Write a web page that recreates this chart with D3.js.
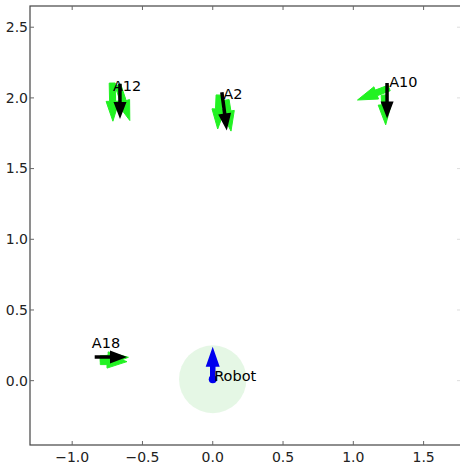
<!DOCTYPE html>
<html>
<head>
<meta charset="utf-8">
<script src="https://cdn.jsdelivr.net/npm/d3@7"></script>
<style>
  body { margin: 0; background: white; }
  svg { display: block; font-family: "DejaVu Sans", sans-serif; }
</style>
</head>
<body>
<div id="chart"></div>
<script>
// agents: start of heading arrow (black) and label spot
var agentNames = ["A12", "A2", "A10", "A18"];
var agentX = [-0.66, 0.065, 1.24, -0.84];
var agentY = [2.10, 2.04, 2.105, 0.168];
var headDX = [0.0, 0.035, 0.0, 0.23];
var headDY = [-0.25, -0.27, -0.25, 0.0];
var labelX = [-0.71, 0.075, 1.255, -0.86];
var labelY = [2.05, 1.995, 2.075, 0.23];

// green arrows: [x, y, dx, dy]
var greenArrows = [
  [-0.715, 2.105, 0.005, -0.27],
  [-0.675, 2.09, 0.085, -0.25],
  [0.045, 2.02, -0.01, -0.24],
  [0.095, 1.985, 0.035, -0.22],
  [1.255, 2.07, -0.225, -0.085],
  [1.22, 2.02, 0.01, -0.21],
  [-0.80, 0.155, 0.2, 0.01],
  [-0.80, 0.135, 0.19, 0.0]
];

var robotX = 0.0, robotY = 0.01;
var robotDX = 0.0, robotDY = 0.23;
var robotRadius = 0.24;

var xTicks = [-1.0, -0.5, 0.0, 0.5, 1.0, 1.5];
var yTicks = [0.0, 0.5, 1.0, 1.5, 2.0, 2.5];

var width = 460, height = 466;
var padLeft = 30, padRight = 461, padTop = 6, padBottom = 445;

var x = d3.scaleLinear().domain([-1.3, 1.766]).range([padLeft, padRight]);
var y = d3.scaleLinear().domain([-0.455, 2.65]).range([padBottom, padTop]);

var svg = d3.select("#chart")
  .append("svg")
  .attr("width", width)
  .attr("height", height);

svg.append("rect")
  .attr("width", width)
  .attr("height", height)
  .attr("fill", "white");

// build an arrow polygon in pixel space, tip included in length
function arrowPath(x0, y0, dx, dy, shaftW, headW, headL) {
  var px = x(x0), py = y(y0);
  var qx = x(x0 + dx), qy = y(y0 + dy);
  var len = Math.sqrt((qx - px) * (qx - px) + (qy - py) * (qy - py));
  var ux = (qx - px) / len, uy = (qy - py) / len;
  var nx = -uy, ny = ux;
  var bx = qx - ux * headL, by = qy - uy * headL;
  var pts = [
    [px + nx * shaftW / 2, py + ny * shaftW / 2],
    [bx + nx * shaftW / 2, by + ny * shaftW / 2],
    [bx + nx * headW / 2, by + ny * headW / 2],
    [qx, qy],
    [bx - nx * headW / 2, by - ny * headW / 2],
    [bx - nx * shaftW / 2, by - ny * shaftW / 2],
    [px - nx * shaftW / 2, py - ny * shaftW / 2]
  ];
  return "M" + pts.map(function(p) { return p[0].toFixed(1) + "," + p[1].toFixed(1); }).join("L") + "Z";
}

var plot = svg.append("g");

// robot safety circle
plot.append("ellipse")
  .attr("cx", x(robotX))
  .attr("cy", y(robotY))
  .attr("rx", x(robotRadius) - x(0))
  .attr("ry", y(0) - y(robotRadius))
  .attr("fill", "#00b000")
  .attr("fill-opacity", 0.1);

plot.selectAll(".green").data(greenArrows)
  .enter()
  .append("path")
  .attr("class", "green")
  .attr("d", function(d) { return arrowPath(d[0], d[1], d[2], d[3], 6, 13, 20); })
  .attr("fill", "#22f222")
  .attr("stroke", "#22f222")
  .attr("stroke-width", 1);

plot.selectAll(".heading").data(agentNames)
  .enter()
  .append("path")
  .attr("class", "heading")
  .attr("d", function(d, i) { return arrowPath(agentX[i], agentY[i], headDX[i], headDY[i], 3.5, 13, 17); })
  .attr("fill", "black");

plot.selectAll(".label").data(agentNames)
  .enter()
  .append("text")
  .attr("class", "label")
  .attr("x", function(d, i) { return x(labelX[i]); })
  .attr("y", function(d, i) { return y(labelY[i]); })
  .style("font-size", "14.5px")
  .style("fill", "black")
  .text(function(d) { return d; });

// robot
plot.append("path")
  .attr("d", arrowPath(robotX, robotY, robotDX, robotDY, 5.5, 14, 20))
  .attr("fill", "#0000ee");

plot.append("circle")
  .attr("cx", x(robotX))
  .attr("cy", y(robotY))
  .attr("r", 4)
  .attr("fill", "#0000ee");

plot.append("text")
  .attr("x", x(0.01))
  .attr("y", y(-0.005))
  .style("font-size", "14.5px")
  .style("fill", "black")
  .text("Robot");

// frame
var frame = svg.append("g");
frame.append("rect")
  .attr("x", padLeft)
  .attr("y", padTop)
  .attr("width", padRight - padLeft)
  .attr("height", padBottom - padTop)
  .attr("fill", "none")
  .attr("stroke", "#444")
  .attr("stroke-width", 1.2);

// inward ticks on all four sides
frame.selectAll(".xtb").data(xTicks).enter().append("line")
  .attr("x1", function(d) { return x(d); }).attr("x2", function(d) { return x(d); })
  .attr("y1", padBottom).attr("y2", padBottom - 4)
  .attr("stroke", "#666");
frame.selectAll(".xtt").data(xTicks).enter().append("line")
  .attr("x1", function(d) { return x(d); }).attr("x2", function(d) { return x(d); })
  .attr("y1", padTop).attr("y2", padTop + 4)
  .attr("stroke", "#666");
frame.selectAll(".ytl").data(yTicks).enter().append("line")
  .attr("x1", padLeft).attr("x2", padLeft + 4)
  .attr("y1", function(d) { return y(d); }).attr("y2", function(d) { return y(d); })
  .attr("stroke", "#666");
frame.selectAll(".ytr").data(yTicks).enter().append("line")
  .attr("x1", padRight - 4).attr("x2", padRight)
  .attr("y1", function(d) { return y(d); }).attr("y2", function(d) { return y(d); })
  .attr("stroke", "#ddd");

var fmt = d3.format(".1f");

frame.selectAll(".xl").data(xTicks).enter().append("text")
  .attr("x", function(d) { return x(d); })
  .attr("y", 462)
  .attr("text-anchor", "middle")
  .style("font-size", "14px")
  .style("fill", "#222")
  .text(function(d) { return fmt(d); });

frame.selectAll(".yl").data(yTicks).enter().append("text")
  .attr("x", padLeft - 2)
  .attr("y", function(d) { return y(d); })
  .attr("dy", "0.35em")
  .attr("text-anchor", "end")
  .style("font-size", "14px")
  .style("fill", "#222")
  .text(function(d) { return fmt(d); });
</script>
</body>
</html>
